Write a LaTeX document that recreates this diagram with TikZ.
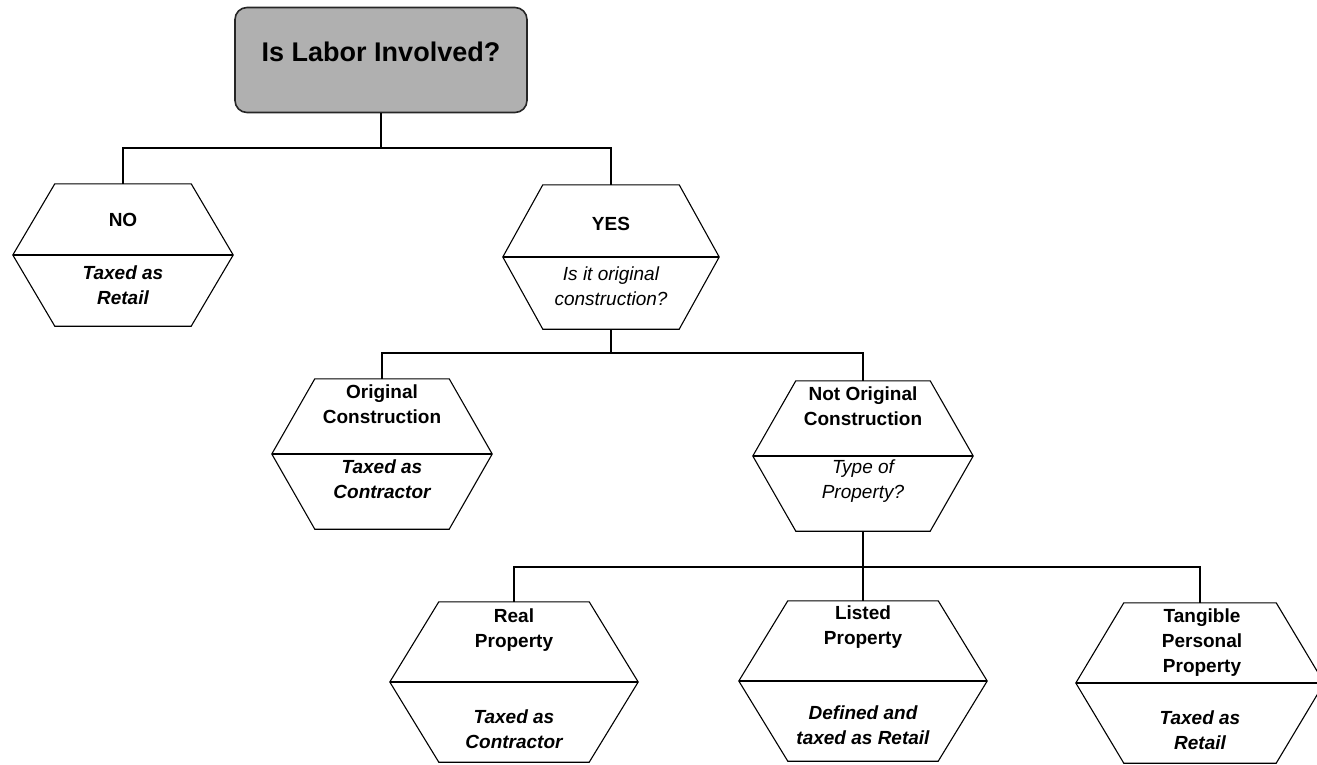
\documentclass[tikz,border=0pt]{standalone}
\usepackage{fontspec}
\setmainfont{Liberation Sans}
\usetikzlibrary{calc}
\definecolor{titlegray}{RGB}{176,176,176}

\tikzset{
  hexline/.style={line width=1.1pt, line join=miter},
  link/.style={line width=1.1pt},
  rowA/.style={rectangle, inner sep=0pt, minimum width=220pt, minimum height=142pt},
  rowB/.style={rectangle, inner sep=0pt, minimum width=220pt, minimum height=150pt},
  rowC/.style={rectangle, inner sep=0pt, minimum width=248pt, minimum height=160pt},
  head/.style={font=\fontsize{19}{25}\selectfont\bfseries, align=center, inner sep=0pt},
  verdict/.style={font=\fontsize{19}{25}\selectfont\bfseries\itshape, align=center, inner sep=0pt},
  question/.style={font=\fontsize{19}{25}\selectfont\itshape, align=center, inner sep=0pt},
  titlebox/.style={draw=black!85, fill=titlegray, line width=1.6pt, rounded corners=12pt,
    minimum width=292pt, minimum height=105pt, text height=20pt, text depth=16pt,
    font=\fontsize{27}{32}\selectfont\bfseries}
}

% hexagon round a (blank) node: name, inset of the top and bottom edges
\newcommand{\hexoutline}[2]{%
  \draw[hexline] ($(#1.north west)+(#2,0)$) -- ($(#1.north east)+(-#2,0)$) -- (#1.east)
    -- ($(#1.south east)+(-#2,0)$) -- ($(#1.south west)+(#2,0)$) -- (#1.west) -- cycle;
  \draw[hexline] (#1.west) -- (#1.east);
}

\begin{document}
\begin{tikzpicture}[x=1pt, y=-1pt]
  \useasboundingbox (0,0) rectangle (1317,765);

  \node[titlebox] (labor) at (381,60) {Is Labor Involved?};

  % first row
  \node[rowA] (no) at (123,255) {};
  \node[rowA, minimum width=216pt, minimum height=144pt] (yes) at (611,257) {};
  \hexoutline{no}{42}
  \hexoutline{yes}{40}
  \node[head] (no-top) at (123,220) {NO};
  \node[verdict] (no-bot) at (123,285) {Taxed as\\Retail};
  \node[head] (yes-top) at (611,224) {YES};
  \node[question] (yes-bot) at (611,286) {Is it original\\construction?};

  % second row
  \node[rowB] (orig) at (382,454) {};
  \node[rowB] (notorig) at (863,456) {};
  \hexoutline{orig}{43}
  \hexoutline{notorig}{43}
  \node[head] (orig-top) at (382,404) {Original\\Construction};
  \node[verdict] (orig-bot) at (382,479) {Taxed as\\Contractor};
  \node[head] (notorig-top) at (863,406) {Not Original\\Construction};
  \node[question] (notorig-bot) at (863,481) {Type of\\Property?};

  % third row
  \node[rowC] (real) at (514,682) {};
  \node[rowC] (listed) at (863,681) {};
  \node[rowC] (tangible) at (1200,683) {};
  \hexoutline{real}{49}
  \hexoutline{listed}{49}
  \hexoutline{tangible}{48}
  \node[head] (real-top) at (514,630) {Real\\Property};
  \node[verdict] (real-bot) at (514,729) {Taxed as\\Contractor};
  \node[head] (listed-top) at (863,627) {Listed\\Property};
  \node[verdict] (listed-bot) at (863,725) {Defined and\\taxed as Retail};
  \node[head] (tangible-top) at (1202,643) {Tangible\\Personal\\Property};
  \node[verdict] (tangible-bot) at (1200,730) {Taxed as\\Retail};

  % connectors
  \coordinate (j1) at (labor.south |- 0,148);
  \coordinate (j2) at (yes.south |- 0,353);
  \coordinate (j3) at (notorig.south |- 0,567);
  \draw[link] (labor.south) -- (j1);
  \draw[link] (j1) -| (no.north);
  \draw[link] (j1) -| (yes.north);
  \draw[link] (yes.south) -- (j2);
  \draw[link] (j2) -| (orig.north);
  \draw[link] (j2) -| (notorig.north);
  \draw[link] (notorig.south) -- (j3);
  \draw[link] (j3) -| (real.north);
  \draw[link] (j3) -- (listed.north);
  \draw[link] (j3) -| (tangible.north);
\end{tikzpicture}
\end{document}
